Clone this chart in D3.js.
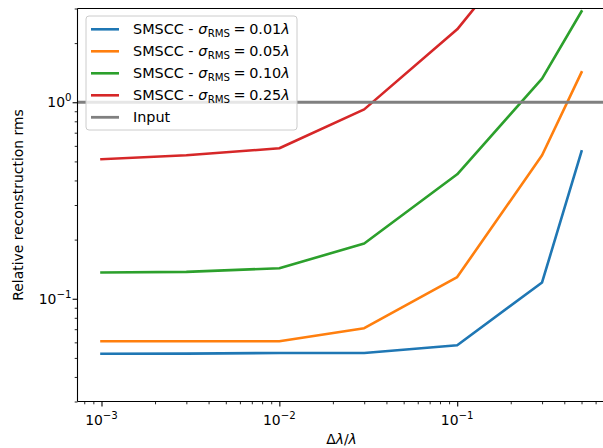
<!DOCTYPE html>
<html>
<head>
<meta charset="utf-8">
<script src="https://cdn.jsdelivr.net/npm/d3@7"></script>
<style>
  html, body { margin: 0; padding: 0; background: #fff; }
  svg { display: block; font-family: "DejaVu Sans", sans-serif; }
</style>
</head>
<body>
<svg id="chart" width="603" height="448"></svg>
<script>
// Bandwidth ratio Δλ/λ sampled for each run
const bandwidth = [0.001, 0.003, 0.01, 0.03, 0.1, 0.3, 0.5];

// Relative reconstruction rms per surface roughness level
const rms001 = [0.0525, 0.0526, 0.0530, 0.0530, 0.0580, 0.121, 0.563];
const rms005 = [0.0608, 0.0608, 0.0608, 0.0708, 0.129, 0.537, 1.42];
const rms010 = [0.136, 0.137, 0.143, 0.191, 0.43, 1.32, 2.90];
const rms025 = [0.513, 0.537, 0.583, 0.92, 2.35, 8.0, 15.0];
const inputLevel = 1.0;

const seriesNames = ["0.01", "0.05", "0.10", "0.25"];
const seriesColors = ["#1f77b4", "#ff7f0e", "#2ca02c", "#d62728"];
const seriesValues = [rms001, rms005, rms010, rms025];

const xLimits = [7.33e-4, 0.682];
const yLimits = [0.03, 3];
const xTickLabels = [[0.001, "−3"], [0.01, "−2"], [0.1, "−1"]];
const yTickLabels = [[0.1, "−1"], [1, "0"]];

const svg = d3.select("#chart");
const plot = { left: 77.5, top: 8.5, right: 605.5, bottom: 401.5 };

const x = d3.scaleLog().domain(xLimits).range([plot.left, plot.right]);
const y = d3.scaleLog().domain(yLimits).range([plot.bottom, plot.top]);

svg.append("defs").append("clipPath").attr("id", "plotclip")
  .append("rect")
  .attr("x", plot.left).attr("y", plot.top)
  .attr("width", plot.right - plot.left).attr("height", plot.bottom - plot.top);

const line = d3.line().x((d, i) => x(bandwidth[i])).y(d => y(d));

const marks = svg.append("g").attr("clip-path", "url(#plotclip)");

seriesValues.forEach((vals, k) => {
  marks.append("path")
    .datum(vals)
    .attr("d", line)
    .attr("fill", "none")
    .attr("stroke", seriesColors[k])
    .attr("stroke-width", 2.6)
    .attr("stroke-linejoin", "round")
    .attr("stroke-linecap", "square");
});

// Input reference level
marks.append("line")
  .attr("x1", plot.left).attr("x2", plot.right)
  .attr("y1", y(inputLevel)).attr("y2", y(inputLevel))
  .attr("stroke", "#808080")
  .attr("stroke-width", 2.8);

// Spines
const spine = svg.append("g").attr("stroke", "#000").attr("stroke-width", 1.1).attr("fill", "none");
spine.append("line").attr("x1", plot.left).attr("x2", plot.left).attr("y1", plot.top).attr("y2", plot.bottom);
spine.append("line").attr("x1", plot.left).attr("x2", plot.right).attr("y1", plot.bottom).attr("y2", plot.bottom);
spine.append("line").attr("x1", plot.left).attr("x2", plot.right).attr("y1", plot.top).attr("y2", plot.top);

// Axes: major and minor log ticks
const isDecade = v => Math.abs(Math.log10(v) - Math.round(Math.log10(v))) < 1e-9;
const xMajor = x.ticks().filter(isDecade);
const xMinor = x.ticks().filter(v => !isDecade(v));
const yMajor = y.ticks().filter(isDecade);
const yMinor = y.ticks().filter(v => !isDecade(v));

const xAxisMajor = d3.axisBottom(x).tickValues(xMajor).tickSize(4.9).tickFormat("");
const xAxisMinor = d3.axisBottom(x).tickValues(xMinor).tickSize(2.8).tickFormat("");
const yAxisMajor = d3.axisLeft(y).tickValues(yMajor).tickSize(4.9).tickFormat("");
const yAxisMinor = d3.axisLeft(y).tickValues(yMinor).tickSize(2.8).tickFormat("");

function styleAxis(g, w) {
  g.select(".domain").remove();
  g.selectAll(".tick line").attr("stroke", "#000").attr("stroke-width", w);
}
svg.append("g").attr("transform", `translate(0,${plot.bottom})`).call(xAxisMajor).call(g => styleAxis(g, 1.1));
svg.append("g").attr("transform", `translate(0,${plot.bottom})`).call(xAxisMinor).call(g => styleAxis(g, 0.85));
svg.append("g").attr("transform", `translate(${plot.left},0)`).call(yAxisMajor).call(g => styleAxis(g, 1.1));
svg.append("g").attr("transform", `translate(${plot.left},0)`).call(yAxisMinor).call(g => styleAxis(g, 0.85));

// Tick labels as 10 with superscript exponent
xTickLabels.forEach(([v, e]) => {
  const t = svg.append("text")
    .attr("x", x(v)).attr("y", 424.5)
    .attr("text-anchor", "middle")
    .attr("font-size", 13.9)
    .attr("fill", "#000");
  t.append("tspan").text("10");
  t.append("tspan").attr("dy", -6).attr("font-size", 10.2).text(e);
});
yTickLabels.forEach(([v, e]) => {
  const t = svg.append("text")
    .attr("x", 71.5).attr("y", y(v) + 5)
    .attr("text-anchor", "end")
    .attr("font-size", 13.9)
    .attr("fill", "#000");
  t.append("tspan").text("10");
  t.append("tspan").attr("dy", -6).attr("font-size", 10.2).text(e);
});

// Axis titles
const xl = svg.append("text")
  .attr("x", (plot.left + 605.5) / 2).attr("y", 443.5)
  .attr("text-anchor", "middle").attr("font-size", 13.9).attr("fill", "#000");
xl.append("tspan").text("Δ");
xl.append("tspan").attr("font-style", "italic").text("λ");
xl.append("tspan").text("/");
xl.append("tspan").attr("font-style", "italic").text("λ");

svg.append("text")
  .attr("transform", `translate(23,${(plot.top + plot.bottom) / 2}) rotate(-90)`)
  .attr("text-anchor", "middle").attr("font-size", 13.9).attr("fill", "#000")
  .text("Relative reconstruction rms");

// Legend
const legend = svg.append("g");
legend.append("rect")
  .attr("x", 86).attr("y", 16).attr("width", 211).attr("height", 114)
  .attr("rx", 3).attr("ry", 3)
  .attr("fill", "#fff").attr("fill-opacity", 0.8)
  .attr("stroke", "#ccc").attr("stroke-width", 1);

const legendFont = 14.4;
const rowY = [29.3, 51.3, 73.3, 95.3, 117.3];
seriesNames.forEach((name, k) => {
  legend.append("line")
    .attr("x1", 91).attr("x2", 119)
    .attr("y1", rowY[k]).attr("y2", rowY[k])
    .attr("stroke", seriesColors[k]).attr("stroke-width", 2.6);
  const t = legend.append("text")
    .attr("x", 133).attr("y", rowY[k] + 5)
    .attr("font-size", legendFont).attr("fill", "#000");
  t.append("tspan").text("SMSCC - ");
  t.append("tspan").attr("font-style", "italic").text("σ");
  t.append("tspan").attr("font-size", 10.2).attr("dy", 2.5).attr("dx", 0.5).text("RMS");
  t.append("tspan").attr("dy", -2.5).attr("dx", 3.5).text("=");
  t.append("tspan").attr("dx", 3.5).text(name);
  t.append("tspan").attr("font-style", "italic").text("λ");
});
legend.append("line")
  .attr("x1", 91).attr("x2", 119)
  .attr("y1", rowY[4]).attr("y2", rowY[4])
  .attr("stroke", "#808080").attr("stroke-width", 2.8);
legend.append("text")
  .attr("x", 133).attr("y", rowY[4] + 5)
  .attr("font-size", legendFont).attr("fill", "#000")
  .text("Input");
</script>
</body>
</html>
